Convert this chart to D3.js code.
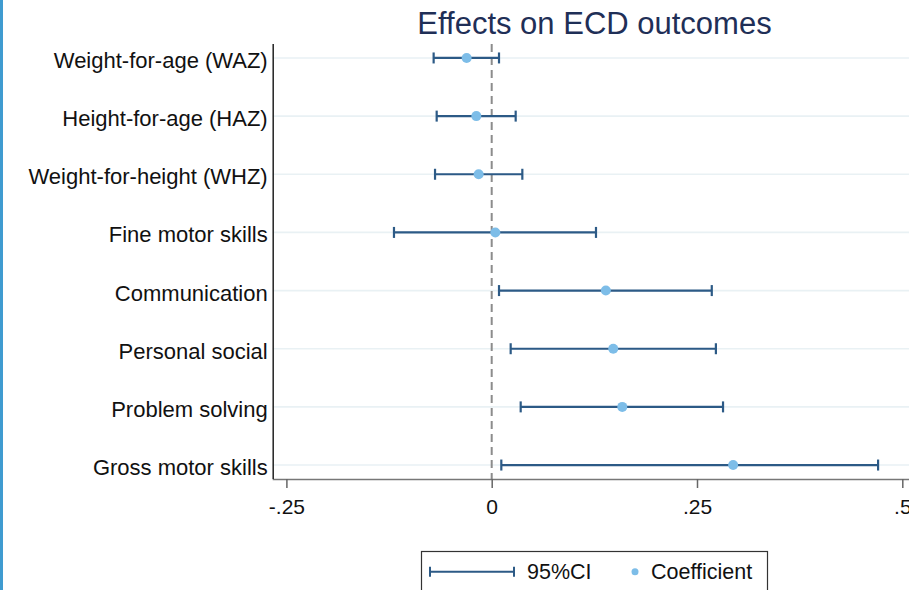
<!DOCTYPE html>
<html><head><meta charset="utf-8">
<script src="https://cdn.jsdelivr.net/npm/d3@7"></script>
<style>body{margin:0;background:#fff;}svg{display:block;font-family:"Liberation Sans",Arial,sans-serif;}</style>
</head><body><svg id="c" width="909" height="590"></svg>
<script>
const categories = ["Weight-for-age (WAZ)","Height-for-age (HAZ)","Weight-for-height (WHZ)","Fine motor skills","Communication","Personal social","Problem solving","Gross motor skills"];
const coef  = [-0.0305,-0.0187,-0.0159,0.0044,0.139,0.148,0.159,0.294];
const lower = [-0.0707,-0.067,-0.069,-0.119,0.0089,0.0231,0.0353,0.0117];
const upper = [0.0089,0.0292,0.0373,0.127,0.268,0.273,0.2817,0.4705];
const xTicks = [-0.25,0,0.25,0.5];
const xTickLabels = ["-.25","0",".25",".5"];

(function(){
const svg = d3.select("#c");
const pLeft = 272.7, pRight = 909, pTop = 44, pBottom = 479;
const x = d3.scaleLinear().domain([0,0.25]).range([491.7,697]);
const y = d3.scalePoint().domain(categories).range([pTop,pBottom]).padding(0.24);

svg.append("rect").attr("x",0).attr("y",0).attr("width",3).attr("height",590).attr("fill","#3f9bd0");

svg.append("g").selectAll("line").data(categories).join("line")
  .attr("x1",pLeft).attr("x2",pRight).attr("y1",d=>y(d)).attr("y2",d=>y(d))
  .attr("stroke","#e9f1f4").attr("stroke-width",1.6);

svg.append("line").attr("x1",x(0)).attr("x2",x(0)).attr("y1",pTop).attr("y2",pBottom)
  .attr("stroke","#8c8c8c").attr("stroke-width",2).attr("stroke-dasharray","8,5");

const xa = svg.append("g").attr("transform",`translate(0,${pBottom})`)
  .call(d3.axisBottom(x).tickValues(xTicks).tickFormat((d,i)=>xTickLabels[i]).tickSize(9).tickSizeOuter(0).tickPadding(0));
xa.select(".domain").attr("d",`M${pLeft},0.5H${pRight}`).attr("stroke","#777").attr("stroke-width",1.5);
xa.selectAll(".tick line").attr("stroke","#666").attr("stroke-width",1.5);
xa.selectAll(".tick text").attr("font-size",21).attr("fill","#111").attr("y",35).attr("dy",0).attr("font-family","Liberation Sans, Arial, sans-serif");

const ya = svg.append("g").attr("transform",`translate(${pLeft},0)`)
  .call(d3.axisLeft(y).tickSize(0).tickPadding(5).tickSizeOuter(0));
ya.select(".domain").attr("d",`M0.5,${pTop}V${pBottom}`).attr("stroke","#222").attr("stroke-width",1.5);
ya.selectAll(".tick text").attr("font-size",22).attr("fill","#111").attr("dy","0.43em").attr("font-family","Liberation Sans, Arial, sans-serif");

const ciCol = "#2c5a86", dotCol = "#7dbde8";
const g = svg.append("g");
categories.forEach((c,i)=>{
  const yy = y(c);
  g.append("line").attr("x1",x(lower[i])).attr("x2",x(upper[i])).attr("y1",yy).attr("y2",yy).attr("stroke",ciCol).attr("stroke-width",2.2);
  [lower[i],upper[i]].forEach(v=>{
    g.append("line").attr("x1",x(v)).attr("x2",x(v)).attr("y1",yy-5.5).attr("y2",yy+5.5).attr("stroke",ciCol).attr("stroke-width",2.2);
  });
});
g.selectAll("circle").data(categories).join("circle")
  .attr("cx",(d,i)=>x(coef[i])).attr("cy",d=>y(d)).attr("r",5).attr("fill",dotCol);

svg.append("text").attr("x",594.5).attr("y",34.3).attr("text-anchor","middle")
  .attr("font-size",31).attr("fill","#1f2f57").text("Effects on ECD outcomes");

const lg = svg.append("g");
lg.append("rect").attr("x",421.5).attr("y",551.5).attr("width",346).attr("height",60)
  .attr("fill","#fff").attr("stroke","#333").attr("stroke-width",1.2);
const ly = 571.7;
lg.append("line").attr("x1",430).attr("x2",514).attr("y1",ly).attr("y2",ly).attr("stroke",ciCol).attr("stroke-width",2);
[430,514].forEach(v=>lg.append("line").attr("x1",v).attr("x2",v).attr("y1",ly-5).attr("y2",ly+5).attr("stroke",ciCol).attr("stroke-width",2));
lg.append("text").attr("x",527).attr("y",579.3).attr("font-size",21.5).attr("fill","#111").text("95%CI");
lg.append("circle").attr("cx",635).attr("cy",ly).attr("r",3.5).attr("fill",dotCol);
lg.append("text").attr("x",651).attr("y",579.3).attr("font-size",21.5).attr("fill","#111").text("Coefficient");
})();
</script></body></html>
